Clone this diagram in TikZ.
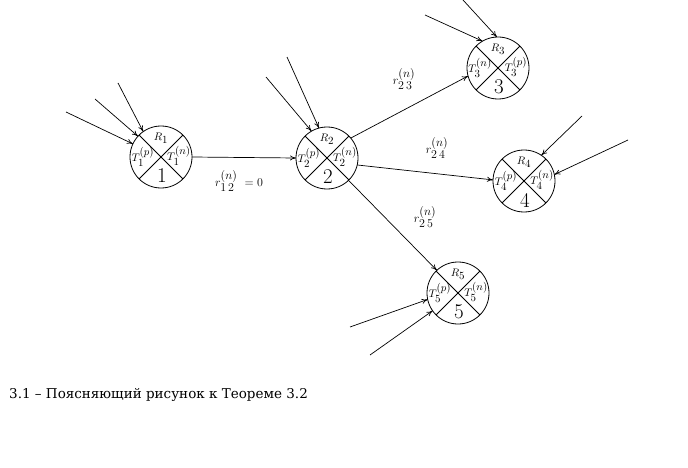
\documentclass[tikz,border=0pt]{standalone}
\usepackage{amsmath}
\usepackage{fontspec}
\newfontfamily\capfont{DejaVu Serif}
\usetikzlibrary{arrows.meta, calc}

\tikzset{
    station/.style={circle, draw, line width=0.8pt, minimum size=62pt, inner sep=0pt, outer sep=0pt},
    flow/.style={-{To[length=6pt, width=5pt]}, line width=0.7pt},
    tag/.style={font=\fontsize{11}{13}\selectfont, inner sep=0pt},
    rate/.style={font=\fontsize{12}{14}\selectfont, inner sep=0pt}
}
\newcommand{\bigsub}[1]{{\textstyle #1}}

\begin{document}
\begin{tikzpicture}[x=1pt, y=-1pt]
    \useasboundingbox (0,0) rectangle (688,468);

    % stations with their inner labels
    \foreach \k/\x/\y/\left/\right in {1/161/157/p/n, 2/327/158/p/n, 3/498/68/n/p, 4/524/181/p/n, 5/458/293/p/n} {
        \node[station] (s\k) at (\x,\y) {};
        \draw[line width=0.8pt] (s\k.north west) -- (s\k.south east);
        \draw[line width=0.8pt] (s\k.north east) -- (s\k.south west);
        \node[tag] at ($(s\k)+(0,-19)$) {$R_{\bigsub{\k}}$};
        \node[tag] at ($(s\k)+(-18,0)$) {$T_{\bigsub{\k}}^{\bigsub{(\left)}}$};
        \node[tag] at ($(s\k)+(18,-1)$) {$T_{\bigsub{\k}}^{\bigsub{(\right)}}$};
        \node[font=\fontsize{21}{24}\selectfont, inner sep=0pt] at ($(s\k)+(1,19)$) {\k};
    }

    % free ends of the incoming arrows
    \coordinate (a1) at (66,112);
    \coordinate (a2) at (95,99);
    \coordinate (a3) at (118,83);
    \coordinate (b1) at (287,57);
    \coordinate (b2) at (266,77);
    \coordinate (c1) at (425,15);
    \coordinate (c2) at (463,0);
    \coordinate (d1) at (582,116);
    \coordinate (d2) at (628,140);
    \coordinate (e1) at (350,327);
    \coordinate (e2) at (370,355);

    \draw[flow] (a1) -- (s1.155);
    \draw[flow] (a2) -- (s1.138);
    \draw[flow] (a3) -- (s1.125);
    \draw[flow] (b1) -- (s2.105);
    \draw[flow] (b2) -- (s2.120);
    \draw[flow] (c1) -- (s3.120);
    \draw[flow] (c2) -- (s3.92);
    \draw[flow] (d1) -- (s4.56);
    \draw[flow] (d2) -- (s4.12);
    \draw[flow] (e1) -- (s5.192);
    \draw[flow] (e2) -- (s5.215);

    % links between stations
    \draw[flow] (s1.east) -- (s2.west);
    \draw[flow] (s2.40) -- (s3.195);
    \draw[flow] (s2.-13) -- (s4.178);
    \draw[flow] (s2.-46) -- (s5.133);

    \node[rate] (r12) at (239,181) {$r_{\bigsub{1\,2}}^{\bigsub{(n)}}\ =0$};
    \node[rate] (r23) at (404,79) {$r_{\bigsub{2\,3}}^{\bigsub{(n)}}$};
    \node[rate] (r24) at (437,148) {$r_{\bigsub{2\,4}}^{\bigsub{(n)}}$};
    \node[rate] (r25) at (425,217) {$r_{\bigsub{2\,5}}^{\bigsub{(n)}}$};

    \node[anchor=base west, inner sep=0pt, font=\capfont\fontsize{13.5}{16}\selectfont] (caption) at (9,398)
        {3.1 – Поясняющий рисунок к Теореме 3.2};
\end{tikzpicture}
\end{document}
